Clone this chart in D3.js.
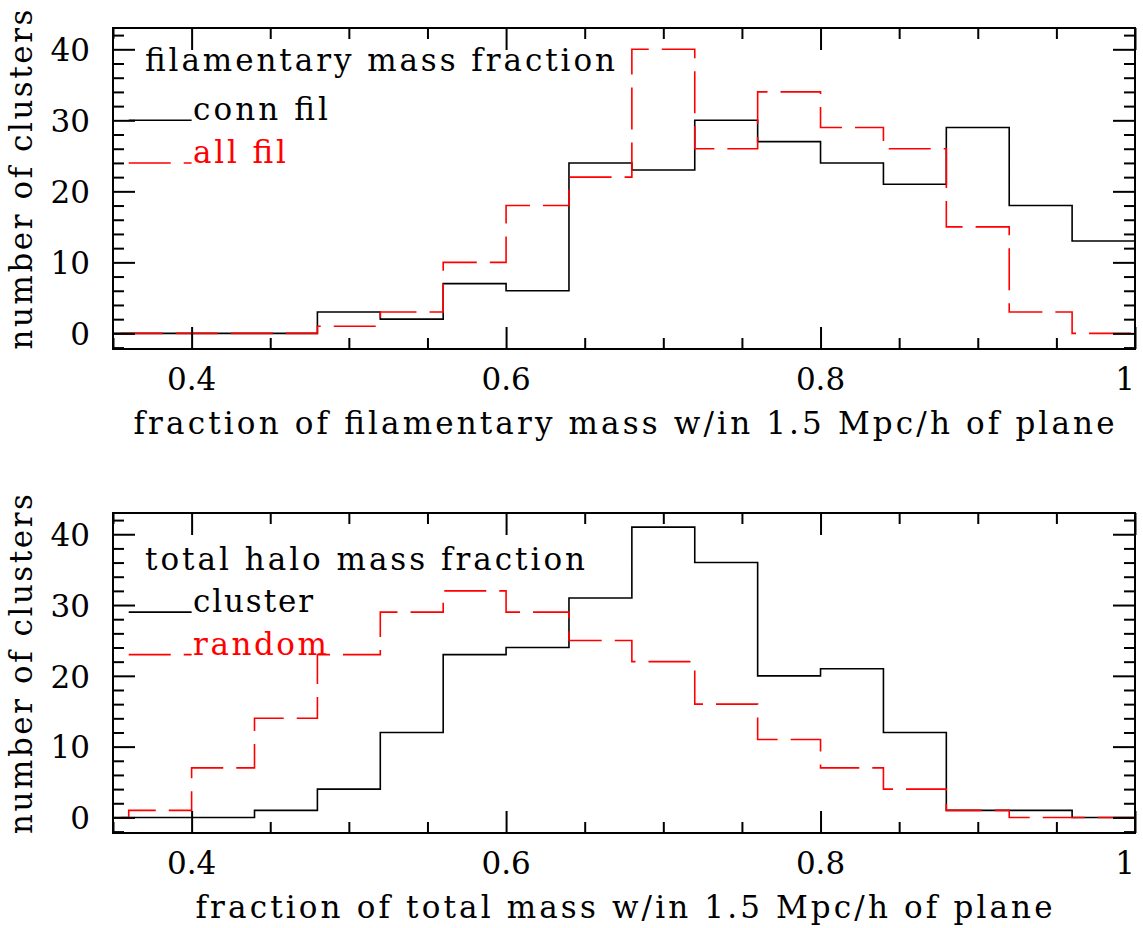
<!DOCTYPE html>
<html><head><meta charset="utf-8">
<script src="https://cdn.jsdelivr.net/npm/d3@7"></script>
<style>
body{margin:0;background:#fff}
svg text{font-family:"DejaVu Serif",serif;font-size:31px;fill:#000}
</style>
</head><body>
<svg id="c" width="1143" height="928"></svg>
<script>
// ---- data ----
const binStarts = [0.32,0.36,0.40,0.44,0.48,0.52,0.56,0.60,0.64,0.68,0.72,0.76,0.80,0.84,0.88,0.92,0.96];
const binWidth = 0.04;
const connFil = [0,0,0,0,3,2,7,6,24,23,30,27,24,21,29,18,13];
const allFil  = [0,0,0,0,1,3,10,18,22,40,26,34,29,26,15,3,0];
const clusterHalo = [0,0,0,1,4,12,23,24,31,41,36,20,21,12,1,1,0];
const randomHalo  = [0,1,7,14,23,29,32,29,25,22,16,11,7,4,1,0,0];
const xMajor = [0.4,0.6,0.8,1.0];
const xMajorLabels = ["0.4","0.6","0.8","1"];
const yMajor = [0,10,20,30,40];
const yMajorLabels = ["0","10","20","30","40"];

const panels = [
  {top:28, height:321, title:"filamentary mass fraction",
   xlabel:"fraction of filamentary mass w/in 1.5 Mpc/h of plane",
   series:[{name:"conn fil", values:connFil, color:"#000", dash:null},
           {name:"all fil", values:allFil, color:"#ff0000", dash:"42,13"}],
   titleY:43, titleLen:470, leg:[30,24], legLen:[135,93], xlabLen:981},
  {top:513, height:320, title:"total halo mass fraction",
   xlabel:"fraction of total mass w/in 1.5 Mpc/h of plane",
   series:[{name:"cluster", values:clusterHalo, color:"#000", dash:null},
           {name:"random", values:randomHalo, color:"#ff0000", dash:"42,13"}],
   titleY:57, titleLen:440, leg:[29,23], legLen:[120,134], xlabLen:857}
];

const svg = d3.select("#c");
const left = 113, right = 1135;
const x = d3.scaleLinear().domain([0.35,1.0]).range([left,right]);
const xMinor = d3.range(0.35,1.0001,0.05).map(v=>+v.toFixed(2)).filter(v=>!xMajor.some(m=>Math.abs(m-v)<1e-6));
const yMinorVals = d3.range(-2,43,2).filter(v=>v%10!==0);

panels.forEach((p,pi)=>{
  const y = d3.scaleLinear().domain([-2.2,43]).range([p.top+p.height,p.top]);
  const g = svg.append("g");
  const clipId = "clip"+pi;
  svg.append("clipPath").attr("id",clipId).append("rect")
    .attr("x",left).attr("y",p.top).attr("width",right-left).attr("height",p.height);

  // histograms
  const line = d3.line().x(d=>x(d[0])).y(d=>y(d[1])).curve(d3.curveStepAfter);
  p.series.forEach(s=>{
    const pts = binStarts.map((b,i)=>[b,s.values[i]]);
    pts.push([binStarts[binStarts.length-1]+binWidth, s.values[s.values.length-1]]);
    g.append("path").attr("d",line(pts)).attr("fill","none")
      .attr("stroke",s.color).attr("stroke-width",1.6)
      .attr("stroke-dasharray",s.dash).attr("clip-path",`url(#${clipId})`);
  });

  // axes ticks (inward)
  const bottom = p.top+p.height;
  const mk = (axis, tr)=>{
    const a = g.append("g").attr("transform",tr).call(axis);
    a.select(".domain").remove();
    a.selectAll("line").attr("stroke","#000").attr("stroke-width",2);
    a.selectAll("text").remove();
  };
  mk(d3.axisBottom(x).tickValues(xMajor).tickSize(-22),`translate(0,${bottom})`);
  mk(d3.axisBottom(x).tickValues(xMinor).tickSize(-11),`translate(0,${bottom})`);
  mk(d3.axisTop(x).tickValues(xMajor).tickSize(-22),`translate(0,${p.top})`);
  mk(d3.axisTop(x).tickValues(xMinor).tickSize(-11),`translate(0,${p.top})`);
  mk(d3.axisLeft(y).tickValues(yMajor).tickSize(-22),`translate(${left},0)`);
  mk(d3.axisLeft(y).tickValues(yMinorVals).tickSize(-11),`translate(${left},0)`);
  mk(d3.axisRight(y).tickValues(yMajor).tickSize(-22),`translate(${right},0)`);
  mk(d3.axisRight(y).tickValues(yMinorVals).tickSize(-11),`translate(${right},0)`);

  // frame
  g.append("rect").attr("x",left).attr("y",p.top).attr("width",right-left).attr("height",p.height)
    .attr("fill","none").attr("stroke","#000").attr("stroke-width",2);

  // tick labels
  xMajor.forEach((v,i)=>{
    const last = i===xMajor.length-1;
    g.append("text").attr("x", x(v)).attr("y",bottom+41)
      .attr("text-anchor", last ? "end":"middle").text(xMajorLabels[i]);
  });
  yMajor.forEach((v,i)=>{
    g.append("text").attr("x",left-23).attr("y",y(v)).attr("dy","0.38em")
      .attr("text-anchor","end").text(yMajorLabels[i]);
  });

  // axis labels
  g.append("text").attr("x",(left+right)/2).attr("y",bottom+85).attr("text-anchor","middle")
    .attr("textLength",p.xlabLen).attr("lengthAdjust","spacing").text(p.xlabel);
  g.append("text").attr("transform",`translate(32,${p.top+p.height/2-9}) rotate(-90)`)
    .attr("text-anchor","middle").attr("textLength",340).attr("lengthAdjust","spacing")
    .text("number of clusters");

  // legend
  g.append("text").attr("x",145).attr("y",p.top+p.titleY)
    .attr("textLength",p.titleLen).attr("lengthAdjust","spacing").text(p.title);
  p.series.forEach((s,i)=>{
    const ly = y(p.leg[i]);
    g.append("line").attr("x1",x(0.36)).attr("x2",x(0.40)).attr("y1",ly).attr("y2",ly)
      .attr("stroke",s.color).attr("stroke-width",1.6).attr("stroke-dasharray",s.dash);
    g.append("text").attr("x",193).attr("y",ly).attr("textLength",p.legLen[i])
      .attr("lengthAdjust","spacing").style("fill",s.color).text(s.name);
  });
});
</script>
</body></html>
